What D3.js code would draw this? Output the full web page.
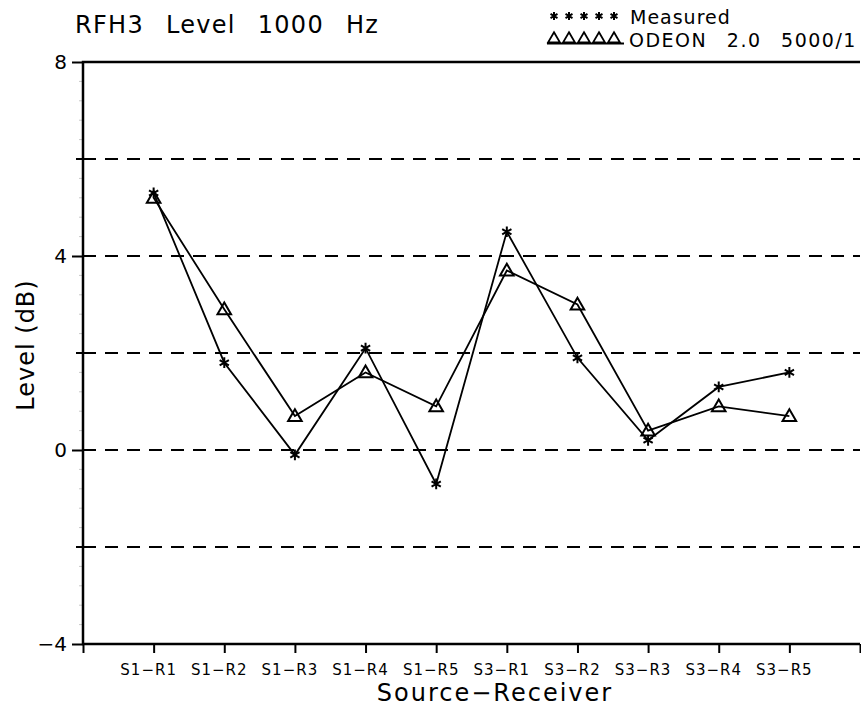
<!DOCTYPE html>
<html lang="en">
    <head>
        <meta charset="utf-8">
        <title>RFH3 Level 1000 Hz</title>
        <script type="text/javascript" src="https://d3js.org/d3.v7.min.js"></script>
    <style>
        body { margin: 0; background: white; }
        svg { display: block; }
        text { font-family: "DejaVu Sans", sans-serif; fill: black; }
    </style>
    </head>
    <body>
        <script type="text/javascript">

        const width = 861;
        const height = 712;

        // plot box
        const plotLeft = 83, plotRight = 860, plotTop = 62, plotBottom = 644;

        const categories = ["S1\u2212R1", "S1\u2212R2", "S1\u2212R3", "S1\u2212R4", "S1\u2212R5",
                            "S3\u2212R1", "S3\u2212R2", "S3\u2212R3", "S3\u2212R4", "S3\u2212R5"];
        const measured = [5.3, 1.8, -0.1, 2.1, -0.7, 4.5, 1.9, 0.2, 1.3, 1.6];
        const odeon    = [5.2, 2.9, 0.7, 1.6, 0.9, 3.7, 3.0, 0.4, 0.9, 0.7];

        const yLabelTicks = [8, 4, 0, -4];
        const yMidTicks = [6, 2, -2];
        const gridLines = [6, 4, 2, 0, -2];

        const xScale = d3.scaleLinear()
                        .domain([0, categories.length + 1])
                        .range([plotLeft, plotRight]);

        const yScale = d3.scaleLinear()
                        .domain([-4, 8])
                        .range([plotBottom, plotTop]);

        const svg = d3.select("body")
                    .append("svg")
                    .attr("width", width)
                    .attr("height", height);

        // minor y ticks (faint)
        const minor = d3.range(-4, 8.001, 0.4).filter(v => Math.abs(v / 2 - Math.round(v / 2)) > 0.01);
        svg.selectAll("line.minor")
            .data(minor)
            .enter()
            .append("line")
            .attr("x1", plotLeft - 4).attr("x2", plotLeft)
            .attr("y1", d => yScale(d)).attr("y2", d => yScale(d))
            .attr("stroke", "#c8c8c8")
            .attr("stroke-width", 1);

        // dashed grid
        svg.selectAll("line.grid")
            .data(gridLines)
            .enter()
            .append("line")
            .attr("x1", plotLeft).attr("x2", plotRight)
            .attr("y1", d => yScale(d)).attr("y2", d => yScale(d))
            .attr("stroke", "black")
            .attr("stroke-width", 2)
            .attr("stroke-dasharray", "13,9");

        // left axis (labelled ticks)
        const leftAxis = d3.axisLeft(yScale)
                        .tickValues(yLabelTicks)
                        .tickSize(11)
                        .tickPadding(5)
                        .tickFormat(d => d < 0 ? "\u2212" + Math.abs(d) : d);
        const gy = svg.append("g")
            .attr("transform", "translate(" + plotLeft + ",0)")
            .call(leftAxis);
        gy.select(".domain").remove();
        gy.selectAll("line").attr("stroke-width", 2);
        gy.selectAll("text").style("font-size", "20px").style("font-family", "DejaVu Sans");

        svg.selectAll("line.midtick")
            .data(yMidTicks)
            .enter()
            .append("line")
            .attr("x1", plotLeft - 7).attr("x2", plotLeft)
            .attr("y1", d => yScale(d)).attr("y2", d => yScale(d))
            .attr("stroke", "black")
            .attr("stroke-width", 2);

        // bottom axis
        const bottomAxis = d3.axisBottom(xScale)
                        .tickValues(d3.range(0, categories.length + 2))
                        .tickSize(9)
                        .tickFormat("");
        const gx = svg.append("g")
            .attr("transform", "translate(0," + plotBottom + ")")
            .call(bottomAxis);
        gx.select(".domain").remove();
        gx.selectAll("line").attr("stroke-width", 2);

        svg.selectAll("text.cat")
            .data(categories)
            .enter()
            .append("text")
            .attr("x", (d, i) => xScale(i + 1) - 5)
            .attr("y", 675)
            .attr("text-anchor", "middle")
            .style("font-size", "15px")
            .style("letter-spacing", "1px")
            .text(d => d);

        // frame: left, top, bottom
        svg.append("path")
            .attr("d", "M" + plotRight + "," + plotTop + "H" + plotLeft + "V" + plotBottom + "H" + plotRight)
            .attr("fill", "none")
            .attr("stroke", "black")
            .attr("stroke-width", 2.5);

        // series lines
        const line = d3.line()
                    .x((d, i) => xScale(i + 1))
                    .y(d => yScale(d));

        svg.append("path")
            .datum(measured)
            .attr("d", line)
            .attr("fill", "none")
            .attr("stroke", "black")
            .attr("stroke-width", 1.8);

        svg.append("path")
            .datum(odeon)
            .attr("d", line)
            .attr("fill", "none")
            .attr("stroke", "black")
            .attr("stroke-width", 1.8);

        const star = d3.symbol().type(d3.symbolAsterisk).size(80);
        const tri = d3.symbol().type(d3.symbolTriangle).size(80);

        svg.selectAll("path.star")
            .data(measured)
            .enter()
            .append("path")
            .attr("d", star)
            .attr("transform", (d, i) => "translate(" + xScale(i + 1) + "," + yScale(d) + ")")
            .attr("fill", "none")
            .attr("stroke", "black")
            .attr("stroke-width", 2);

        svg.selectAll("path.tri")
            .data(odeon)
            .enter()
            .append("path")
            .attr("d", tri)
            .attr("transform", (d, i) => "translate(" + xScale(i + 1) + "," + (yScale(d) + 1) + ")")
            .attr("fill", "none")
            .attr("stroke", "black")
            .attr("stroke-width", 2);

        // legend
        const legendX = d3.range(5).map(i => 554 + i * 15);
        svg.selectAll("path.lstar")
            .data(legendX)
            .enter()
            .append("path")
            .attr("d", d3.symbol().type(d3.symbolAsterisk).size(45))
            .attr("transform", d => "translate(" + d + ",16)")
            .attr("fill", "none")
            .attr("stroke", "black")
            .attr("stroke-width", 2);
        svg.selectAll("path.ltri")
            .data(legendX)
            .enter()
            .append("path")
            .attr("d", d3.symbol().type(d3.symbolTriangle).size(60))
            .attr("transform", d => "translate(" + d + ",39)")
            .attr("fill", "none")
            .attr("stroke", "black")
            .attr("stroke-width", 1.8);
        svg.append("line")
            .attr("x1", 547).attr("x2", 624)
            .attr("y1", 43.5).attr("y2", 43.5)
            .attr("stroke", "black")
            .attr("stroke-width", 1.8);

        svg.append("text")
            .attr("x", 630).attr("y", 24)
            .style("font-size", "19px")
            .style("letter-spacing", "1px")
            .text("Measured");
        svg.append("text")
            .attr("x", 629).attr("y", 47)
            .style("font-size", "19px")
            .style("letter-spacing", "1.5px")
            .style("word-spacing", "12px")
            .text("ODEON 2.0 5000/1");

        // title
        svg.append("text")
            .attr("x", 75).attr("y", 33)
            .style("font-size", "24px")
            .style("letter-spacing", "1.3px")
            .style("word-spacing", "13px")
            .text("RFH3 Level 1000 Hz");

        // axis titles
        svg.append("text")
            .attr("x", 495).attr("y", 701)
            .attr("text-anchor", "middle")
            .style("font-size", "24px")
            .style("letter-spacing", "2px")
            .text("Source\u2212Receiver");

        svg.append("text")
            .attr("transform", "translate(34,345) rotate(-90)")
            .attr("text-anchor", "middle")
            .style("font-size", "24px")
            .style("letter-spacing", "1px")
            .text("Level (dB)");

        </script>
    </body>
</html>
